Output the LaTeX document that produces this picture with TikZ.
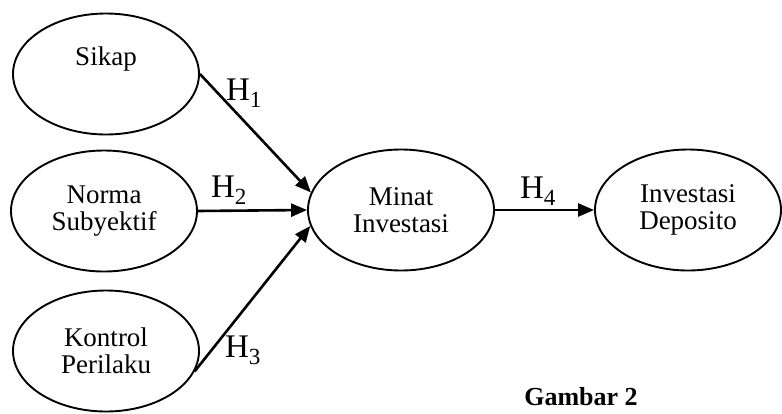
\documentclass[tikz,border=0pt]{standalone}
\usepackage{fontspec}
\setmainfont{Liberation Serif}
\usetikzlibrary{shapes.geometric,arrows.meta}
\tikzset{
  var/.style={draw, ellipse, line width=1.9pt, minimum width=186pt, minimum height=121pt, inner sep=0pt, align=center, font=\fontsize{27}{27}\selectfont},
  path/.style={line width=2.6pt, -{Triangle[length=16pt,width=13pt]}},
  hyp/.style={font=\fontsize{33}{34}\selectfont, inner sep=0pt}
}
\begin{document}
\begin{tikzpicture}[x=1pt,y=-1pt]
\useasboundingbox (0,0) rectangle (782,413);
\node[var] (s) at (106,74) {Sikap\\ \strut};
\node[var] (n) at (104,211) {Norma\\Subyektif};
\node[var] (k) at (106,351) {Kontrol\\Perilaku};
\node[var] (m) at (401,210) {Minat\\Investasi};
\node[var] (d) at (688,210) {Investasi\\Deposito};
\draw[path] (s.east) -- (m.169);
\draw[path] (n.east) -- (m.west);
\draw[path] (k.-13) -- (m.190);
\draw[path] (m.east) -- (d.west);
\node[hyp] (h1) at (244,93) {H\textsubscript{1}};
\node[hyp] (h2) at (229,190) {H\textsubscript{2}};
\node[hyp] (h3) at (243,350) {H\textsubscript{3}};
\node[hyp] (h4) at (538,191) {H\textsubscript{4}};
\node[font=\fontsize{26}{28}\selectfont\bfseries] (g) at (581,397) {Gambar 2};
\end{tikzpicture}
\end{document}
